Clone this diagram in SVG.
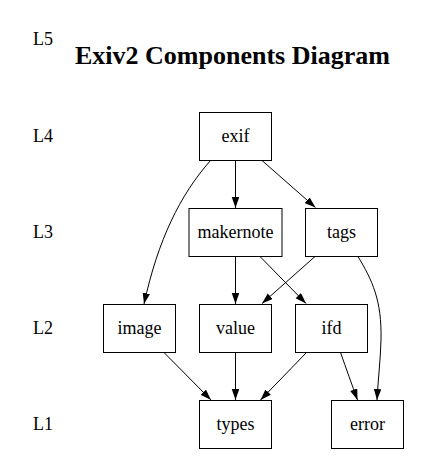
<svg xmlns="http://www.w3.org/2000/svg" width="422" height="465" viewBox="0 0 422 465">
<style>
.bg{fill:#fff}
.node rect{fill:#fff;stroke:#000;stroke-width:1}
.node text,.lvl{font-family:"Liberation Serif","Times New Roman",serif;font-size:18px;fill:#000;text-anchor:middle}
.title{font-family:"Liberation Serif","Times New Roman",serif;font-size:26px;font-weight:bold;fill:#000}
.edges path{fill:none;stroke:#000;stroke-width:1;marker-end:url(#arr)}
</style>
<defs>
<marker id="arr" markerUnits="userSpaceOnUse" markerWidth="11" markerHeight="8" refX="11" refY="3.75" orient="auto">
<path d="M0,0 L11,3.75 L0,7.5 z" fill="#000"/>
</marker>
</defs>
<rect class="bg" x="0" y="0" width="422" height="465"/>
<g id="levels">
<text class="lvl" x="43" y="45">L5</text>
<text class="lvl" x="43" y="142">L4</text>
<text class="lvl" x="43" y="238">L3</text>
<text class="lvl" x="43" y="334">L2</text>
<text class="lvl" x="43" y="430">L1</text>
</g>
<text id="title" class="title" x="75" y="64">Exiv2 Components Diagram</text>
<g class="edges" id="edges">
<path d="M235.5,160.5 L235.5,208"/>
<path d="M262,160.5 L315.5,207.5"/>
<path d="M210.5,160.5 C180,195 158,240 144,304"/>
<path d="M235.5,256.5 L235.5,304"/>
<path d="M260,256.5 L306,303.5"/>
<path d="M315,256.5 L262,303.5"/>
<path d="M358,256.5 C372,280 382,300 381,340 C380.5,360 378,380 377,400"/>
<path d="M340.5,352.5 C346,368 352,385 357.5,400"/>
<path d="M164,352.5 L211,400"/>
<path d="M235.5,352.5 L235.5,400"/>
<path d="M306.5,352.5 L260.5,400"/>
</g>
<g id="exif" class="node"><rect x="199.5" y="112.5" width="72" height="48"/><text x="235.5" y="142">exif</text></g>
<g id="makernote" class="node"><rect x="189" y="208.5" width="93" height="48"/><text x="235.5" y="238">makernote</text></g>
<g id="tags" class="node"><rect x="305.5" y="208.5" width="72" height="48"/><text x="341.5" y="238">tags</text></g>
<g id="image" class="node"><rect x="103.5" y="304.5" width="72" height="48"/><text x="139.5" y="334">image</text></g>
<g id="value" class="node"><rect x="199.5" y="304.5" width="72" height="48"/><text x="235.5" y="334">value</text></g>
<g id="ifd" class="node"><rect x="295.5" y="304.5" width="72" height="48"/><text x="331.5" y="334">ifd</text></g>
<g id="types" class="node"><rect x="199.5" y="400.5" width="72" height="48"/><text x="235.5" y="430">types</text></g>
<g id="error" class="node"><rect x="331.5" y="400.5" width="72" height="48"/><text x="367.5" y="430">error</text></g>
</svg>
